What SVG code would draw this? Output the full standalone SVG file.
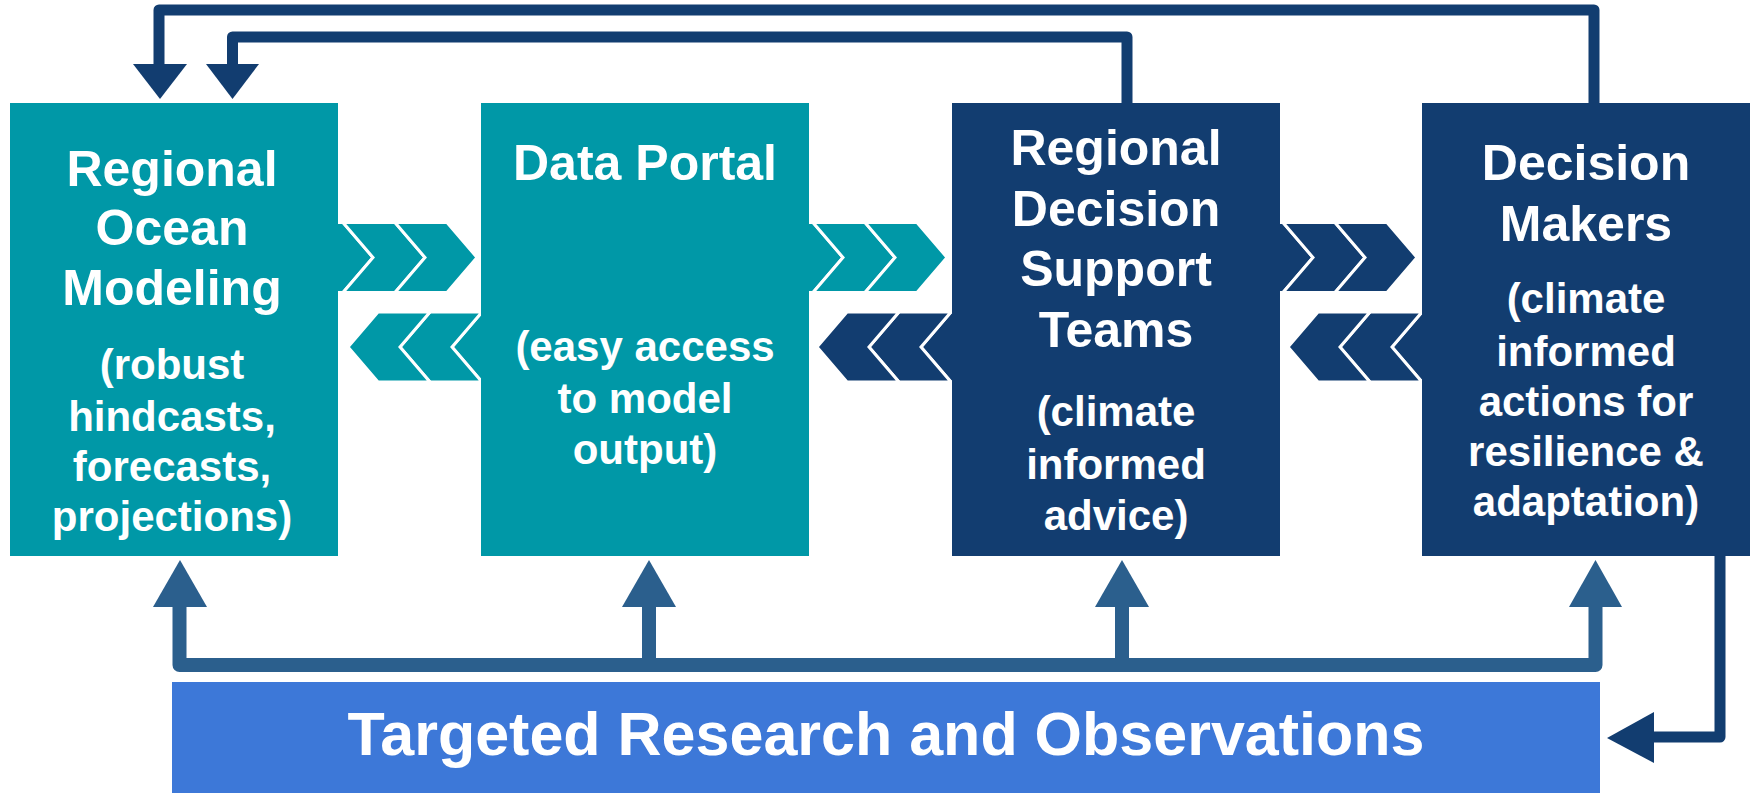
<svg xmlns="http://www.w3.org/2000/svg" xmlns:xlink="http://www.w3.org/1999/xlink" width="1755" height="793" viewBox="0 0 1755 793">
<style>
.t{font-family:"Liberation Sans",Arial,sans-serif;font-weight:bold;fill:#fff;text-anchor:middle}
.h{font-size:50px}
.s{font-size:42px}
.teal{fill:#0098A7}
.navy{fill:#123D70}
.chev{stroke:#fff;stroke-width:3;stroke-linejoin:miter}
.topc{fill:none;stroke:#123D70;stroke-width:11;stroke-linejoin:round}
.botc{fill:none;stroke:#2B5F8D;stroke-width:14;stroke-linejoin:round}
</style>
<defs>
<polygon id="cr" points="0,0 52,0 82,35 52,70 0,70 30,35"/>
<polygon id="cl" points="0,0 -52,0 -82,35 -52,70 0,70 -30,35"/>
</defs>
<rect width="1755" height="793" fill="#fff"/>
<g id="connectors">
<!-- top feedback loops -->
<path class="topc" d="M1594 103 V10 H159 V66"/>
<polygon class="navy" points="133,64 187,64 160,99"/>
<path class="topc" d="M1127 103 V37 H232.5 V66"/>
<polygon class="navy" points="206,64 259,64 232.5,99"/>
<!-- bottom research connectors -->
<path class="botc" d="M179.5 605 V665 H1595.5 V605"/>
<path class="botc" d="M649 605 V665 M1122 605 V665"/>
<polygon fill="#2B5F8D" points="153,607 207,607 180,560"/>
<polygon fill="#2B5F8D" points="622,607 676,607 649,560"/>
<polygon fill="#2B5F8D" points="1095,607 1149,607 1122,560"/>
<polygon fill="#2B5F8D" points="1569,607 1622,607 1595.5,560"/>
<!-- decision makers to research -->
<path fill="none" stroke="#123D70" stroke-width="11" stroke-linejoin="round" d="M1720 556 V737 H1650"/>
<polygon class="navy" points="1654,712 1654,763 1607,738"/>
<!-- chevrons gap 1 -->
<g class="teal chev">
<use xlink:href="#cr" x="291" y="222.5"/><use xlink:href="#cr" x="343" y="222.5"/><use xlink:href="#cr" x="395" y="222.5"/>
<use xlink:href="#cl" x="534" y="312"/><use xlink:href="#cl" x="482" y="312"/><use xlink:href="#cl" x="430" y="312"/>
</g>
<!-- chevrons gap 2 -->
<g class="teal chev">
<use xlink:href="#cr" x="761" y="222.5"/><use xlink:href="#cr" x="813" y="222.5"/><use xlink:href="#cr" x="865" y="222.5"/>
</g>
<g class="navy chev">
<use xlink:href="#cl" x="1003" y="312"/><use xlink:href="#cl" x="951" y="312"/><use xlink:href="#cl" x="899" y="312"/>
</g>
<!-- chevrons gap 3 -->
<g class="navy chev">
<use xlink:href="#cr" x="1231" y="222.5"/><use xlink:href="#cr" x="1283" y="222.5"/><use xlink:href="#cr" x="1335" y="222.5"/>
<use xlink:href="#cl" x="1474" y="312"/><use xlink:href="#cl" x="1422" y="312"/><use xlink:href="#cl" x="1370" y="312"/>
</g>
</g>
<g id="node-modeling">
<rect class="teal" x="10" y="103" width="328" height="453"/>
<text class="t h" x="172" y="186">Regional</text>
<text class="t h" x="172" y="245">Ocean</text>
<text class="t h" x="172" y="305">Modeling</text>
<text class="t s" x="172" y="379">(robust</text>
<text class="t s" x="172" y="431">hindcasts,</text>
<text class="t s" x="172" y="481">forecasts,</text>
<text class="t s" x="172" y="531">projections)</text>
</g>
<g id="node-portal">
<rect class="teal" x="481" y="103" width="328" height="453"/>
<text class="t h" x="645" y="180">Data Portal</text>
<text class="t s" x="645" y="361">(easy access</text>
<text class="t s" x="645" y="413">to model</text>
<text class="t s" x="645" y="464">output)</text>
</g>
<g id="node-support">
<rect class="navy" x="952" y="103" width="328" height="453"/>
<text class="t h" x="1116" y="165">Regional</text>
<text class="t h" x="1116" y="226">Decision</text>
<text class="t h" x="1116" y="286">Support</text>
<text class="t h" x="1116" y="347">Teams</text>
<text class="t s" x="1116" y="426">(climate</text>
<text class="t s" x="1116" y="479">informed</text>
<text class="t s" x="1116" y="530">advice)</text>
</g>
<g id="node-makers">
<rect class="navy" x="1422" y="103" width="328" height="453"/>
<text class="t h" x="1586" y="180">Decision</text>
<text class="t h" x="1586" y="241">Makers</text>
<text class="t s" x="1586" y="313">(climate</text>
<text class="t s" x="1586" y="366">informed</text>
<text class="t s" x="1586" y="416">actions for</text>
<text class="t s" x="1586" y="466">resilience &amp;</text>
<text class="t s" x="1586" y="516">adaptation)</text>
</g>
<g id="node-research">
<rect fill="#3D78D8" x="172" y="682" width="1428" height="111"/>
<text class="t" style="font-size:61px" x="886" y="755">Targeted Research and Observations</text>
</g>
</svg>
